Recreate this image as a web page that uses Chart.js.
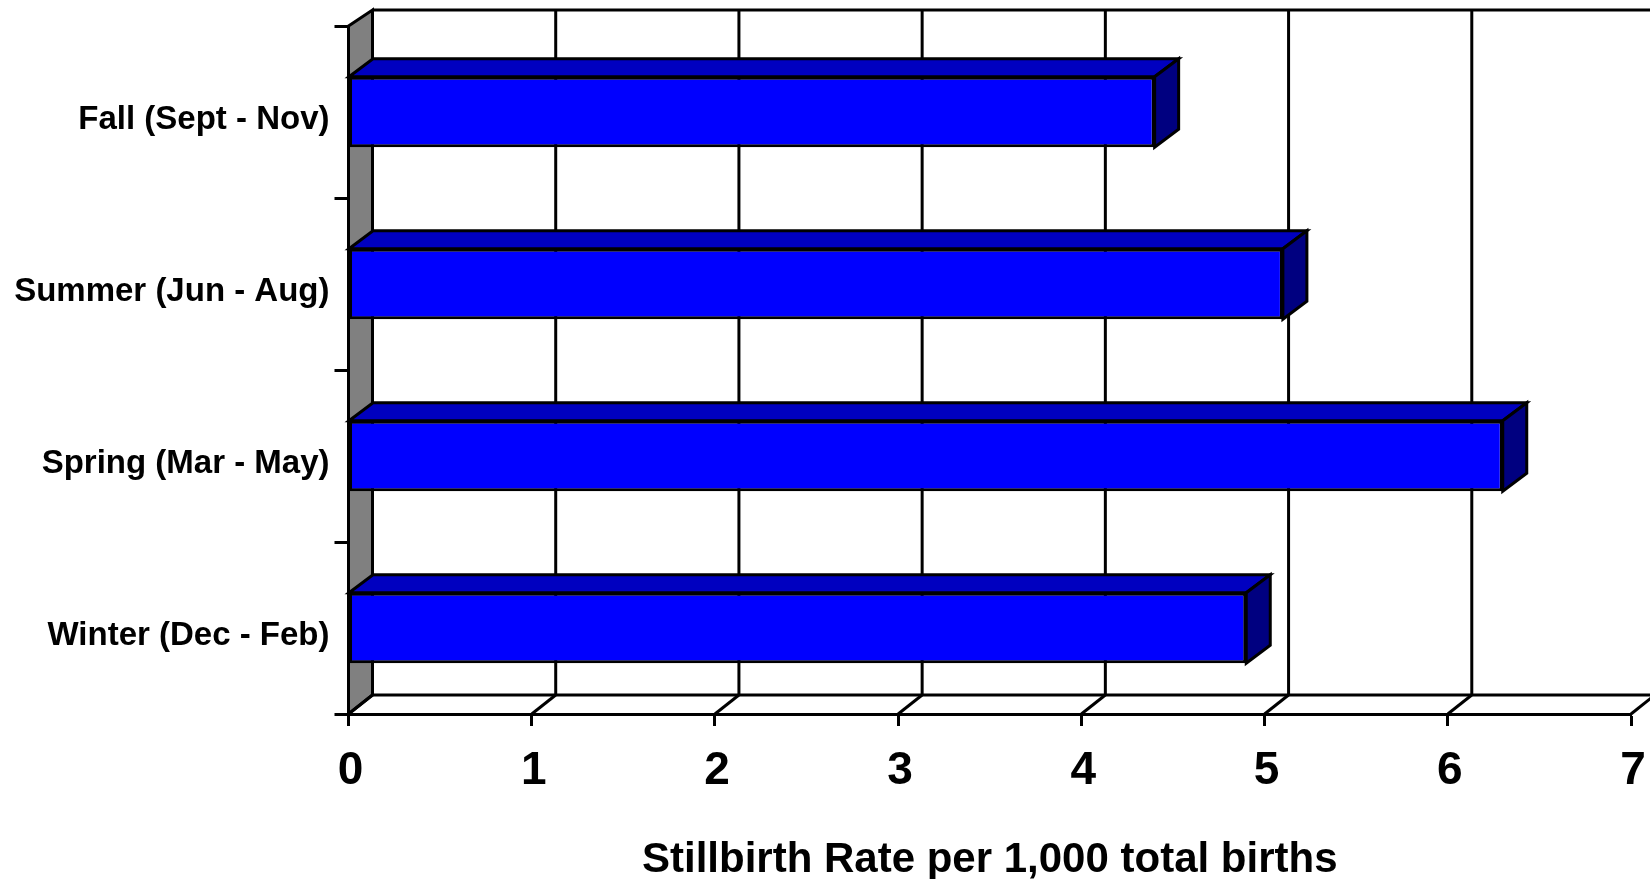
<!DOCTYPE html>
<html>
<head>
<meta charset="utf-8">
<script src="https://cdn.jsdelivr.net/npm/chart.js@4"></script>
<style>
  html, body { margin: 0; padding: 0; background: #fff; overflow: hidden; }
  canvas { display: block; }
</style>
</head>
<body>
<canvas id="stillbirthChart" width="1650" height="879"></canvas>
<script>
const categories = ['Fall (Sept - Nov)', 'Summer (Jun - Aug)', 'Spring (Mar - May)', 'Winter (Dec - Feb)'];
const stillbirthRate = [4.4, 5.1, 6.3, 4.9];
const rateTicks = [0, 1, 2, 3, 4, 5, 6, 7];
const axisTitle = 'Stillbirth Rate per 1,000 total births';

const DEPTH_X = 24;
const DEPTH_Y = 18;

function poly(ctx, pts, fill) {
    ctx.beginPath();
    pts.forEach((p, i) => i ? ctx.lineTo(p[0], p[1]) : ctx.moveTo(p[0], p[1]));
    ctx.closePath();
    if (fill) {
        ctx.fillStyle = fill;
        ctx.fill();
    }
    ctx.stroke();
}

function line(ctx, x1, y1, x2, y2) {
    ctx.beginPath();
    ctx.moveTo(x1, y1);
    ctx.lineTo(x2, y2);
    ctx.stroke();
}

// the fake 3D box: grey wall, floor and back gridlines sit behind the bars
const box3d = {
    id: 'box3d',
    beforeDatasetsDraw(chart) {
        const { ctx, chartArea: a, scales: { x } } = chart;
        const backTop = a.top - 16;
        const backBottom = a.bottom - 19;
        ctx.save();
        ctx.strokeStyle = '#000';
        ctx.lineWidth = 3;

        poly(ctx, [[a.left, a.top], [a.left + DEPTH_X, backTop], [a.left + DEPTH_X, backBottom], [a.left, a.bottom]], '#808080');
        line(ctx, a.left + DEPTH_X, backTop, 1650, backTop);
        line(ctx, a.left + DEPTH_X, backBottom, 1650, backBottom);

        rateTicks.forEach(v => {
            const px = x.getPixelForValue(v);
            if (v > 0) line(ctx, px + DEPTH_X, backTop, px + DEPTH_X, backBottom);
            line(ctx, px, a.bottom, px + DEPTH_X, backBottom);
        });
        ctx.restore();
    },
    afterDatasetsDraw(chart) {
        const { ctx } = chart;
        ctx.save();
        ctx.strokeStyle = '#000';
        ctx.lineWidth = 3;
        ctx.lineJoin = 'miter';
        chart.getDatasetMeta(0).data.forEach(bar => {
            const top = bar.y - bar.height / 2;
            const bottom = bar.y + bar.height / 2;
            poly(ctx, [[bar.base, top], [bar.base + DEPTH_X, top - DEPTH_Y], [bar.x + DEPTH_X, top - DEPTH_Y], [bar.x, top]], '#0000c0');
            poly(ctx, [[bar.x, top], [bar.x + DEPTH_X, top - DEPTH_Y], [bar.x + DEPTH_X, bottom - DEPTH_Y], [bar.x, bottom]], '#000080');
        });
        ctx.restore();
    }
};

new Chart(document.getElementById('stillbirthChart'), {
    type: 'bar',
    data: {
        labels: categories,
        datasets: [{
            data: stillbirthRate,
            backgroundColor: '#0000ff',
            borderColor: '#000',
            borderWidth: 3,
            borderSkipped: false,
            categoryPercentage: 1,
            barPercentage: 0.41
        }]
    },
    options: {
        indexAxis: 'y',
        responsive: false,
        animation: false,
        layout: { padding: { top: 26, right: 19, left: 0, bottom: 0 } },
        plugins: { legend: { display: false }, tooltip: { enabled: false } },
        scales: {
            x: {
                min: 0,
                max: 7,
                // tick padding would otherwise pull the 7 in from the right edge
                afterFit: s => { s.height = 165; s.paddingLeft = 0; s.paddingRight = 0; },
                afterBuildTicks: s => { s.ticks = rateTicks.map(v => ({ value: v })); },
                ticks: {
                    color: '#000',
                    padding: 18,
                    labelOffset: 2,
                    maxRotation: 0,
                    autoSkip: false,
                    font: { family: 'Liberation Sans', size: 46, weight: 'bold' }
                },
                grid: { drawOnChartArea: false, drawTicks: true, tickLength: 12, tickWidth: 3, tickColor: '#000' },
                border: { display: true, color: '#000', width: 3 },
                title: {
                    display: true,
                    text: axisTitle,
                    color: '#000',
                    padding: { top: 0, bottom: -7 },
                    font: { family: 'Liberation Sans', size: 42, weight: 'bold' }
                }
            },
            y: {
                afterFit: s => { s.width = 348.5; },
                ticks: {
                    color: '#000',
                    padding: 5,
                    labelOffset: 8,
                    font: { family: 'Liberation Sans', size: 33, weight: 'bold' }
                },
                grid: { drawOnChartArea: false, drawTicks: true, tickLength: 14, tickWidth: 3, tickColor: '#000' },
                border: { display: true, color: '#000', width: 3 }
            }
        }
    },
    plugins: [box3d]
});
</script>
</body>
</html>
